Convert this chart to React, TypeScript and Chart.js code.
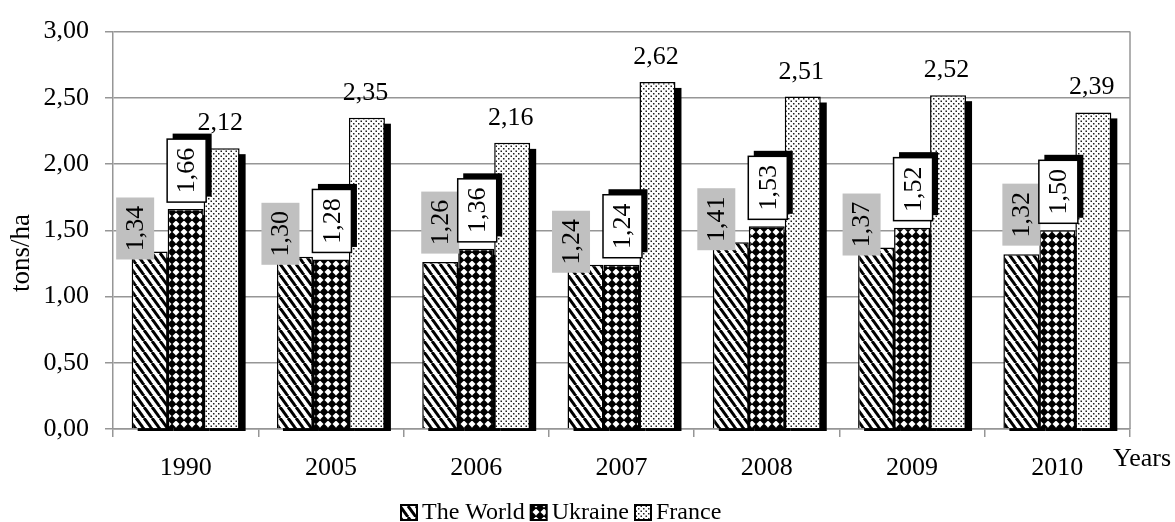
import { useEffect, useRef } from 'react';
import { Chart, registerables } from 'chart.js';

Chart.register(...registerables);

// ---------- data ----------
const categories = ['1990', '2005', '2006', '2007', '2008', '2009', '2010'];
const worldValues = [1.34, 1.3, 1.26, 1.24, 1.41, 1.37, 1.32];
const ukraineValues = [1.66, 1.28, 1.36, 1.24, 1.53, 1.52, 1.5];
const franceValues = [2.12, 2.35, 2.16, 2.62, 2.51, 2.52, 2.39];
const seriesNames = ['The World', 'Ukraine', 'France'];
const yMin = 0;
const yMax = 3;
const yStep = 0.5;
const xAxisTitle = 'Years';
const yAxisTitle = 'tons/ha';

// label layout (style): whether the World label overlaps its bar, shifted left
const worldLabelOverlap = [true, true, false, true, true, true, false];

const FONT = '"Liberation Serif", "Times New Roman", serif';
const GRID = '#969696';

const fmt = (v: number) => v.toFixed(2).replace('.', ',');

function makePattern(kind: 'world' | 'ukraine' | 'france'): CanvasPattern | string {
  const c = document.createElement('canvas');
  let w = 8;
  let h = 8;
  if (kind === 'world') { w = 8; h = 11; }
  if (kind === 'france') { w = 5; h = 5; }
  c.width = w;
  c.height = h;
  const ctx = c.getContext('2d')!;
  ctx.fillStyle = '#fff';
  ctx.fillRect(0, 0, w, h);
  if (kind === 'world') {
    ctx.strokeStyle = '#000';
    ctx.lineWidth = 3;
    for (const o of [-8, 0, 8]) {
      ctx.beginPath();
      ctx.moveTo(o, 0);
      ctx.lineTo(o + 8, h);
      ctx.stroke();
    }
  } else if (kind === 'ukraine') {
    ctx.fillStyle = '#000';
    const r = 4.5;
    ctx.beginPath();
    ctx.moveTo(4, 4 - r);
    ctx.lineTo(4 + r, 4);
    ctx.lineTo(4, 4 + r);
    ctx.lineTo(4 - r, 4);
    ctx.closePath();
    ctx.fill();
  } else {
    ctx.fillStyle = '#222';
    ctx.fillRect(0.5, 0.5, 1.5, 1.5);
    ctx.fillRect(3, 3, 1.5, 1.5);
  }
  const p = ctx.createPattern(c, 'repeat');
  return p || '#ccc';
}

const shadowPlugin = {
  id: 'barShadows',
  beforeDatasetsDraw(chart: any) {
    const ctx = chart.ctx as CanvasRenderingContext2D;
    const a = chart.chartArea;
    ctx.save();
    ctx.beginPath();
    ctx.rect(a.left, a.top - 30, a.right - a.left + 20, a.bottom - a.top + 32);
    ctx.clip();
    ctx.fillStyle = '#000';
    chart.data.datasets.forEach((_: any, i: number) => {
      chart.getDatasetMeta(i).data.forEach((bar: any) => {
        const { x, y, base, width } = bar.getProps(['x', 'y', 'base', 'width'], true);
        ctx.fillRect(x - width / 2 + 6, y + 6, width, base - y);
      });
    });
    ctx.restore();
  },
};

function rotatedText(ctx: CanvasRenderingContext2D, text: string, cx: number, cy: number) {
  ctx.save();
  ctx.translate(cx, cy);
  ctx.rotate(-Math.PI / 2);
  ctx.textAlign = 'center';
  ctx.textBaseline = 'middle';
  ctx.fillText(text, 0, 1);
  ctx.restore();
}

const labelPlugin = {
  id: 'valueLabels',
  afterDatasetsDraw(chart: any) {
    const ctx = chart.ctx as CanvasRenderingContext2D;
    ctx.save();
    ctx.font = `26px ${FONT}`;
    // World labels: grey boxes, vertical text
    chart.getDatasetMeta(0).data.forEach((bar: any, i: number) => {
      const { x, y } = bar.getProps(['x', 'y'], true);
      const bw = 38;
      const bh = 62;
      const cx = worldLabelOverlap[i] ? x - 14.5 : x;
      const bottom = worldLabelOverlap[i] ? y + 8 : y - 8.5;
      ctx.fillStyle = '#c0c0c0';
      ctx.fillRect(cx - bw / 2, bottom - bh, bw, bh);
      ctx.fillStyle = '#000';
      rotatedText(ctx, fmt(chart.data.datasets[0].data[i]), cx, bottom - bh / 2);
    });
    // Ukraine labels: white boxes with border and shadow
    chart.getDatasetMeta(1).data.forEach((bar: any, i: number) => {
      const { x, y } = bar.getProps(['x', 'y'], true);
      const bw = 39;
      const bh = 63;
      const cx = x + 1;
      const bottom = y - 7;
      const left = cx - bw / 2;
      const top = bottom - bh;
      ctx.fillStyle = '#000';
      ctx.fillRect(left + 5.5, top - 5.5, bw, bh);
      ctx.fillStyle = '#fff';
      ctx.fillRect(left, top, bw, bh);
      ctx.strokeStyle = '#000';
      ctx.lineWidth = 1.5;
      ctx.strokeRect(left, top, bw, bh);
      ctx.fillStyle = '#000';
      rotatedText(ctx, fmt(chart.data.datasets[1].data[i]), cx, top + bh / 2);
    });
    // France labels: plain horizontal text
    chart.getDatasetMeta(2).data.forEach((bar: any, i: number) => {
      const { x, y } = bar.getProps(['x', 'y'], true);
      ctx.fillStyle = '#000';
      ctx.textAlign = 'center';
      ctx.textBaseline = 'alphabetic';
      ctx.fillText(fmt(chart.data.datasets[2].data[i]), x - 1.5, y - 18);
    });
    ctx.restore();
  },
};

const decorPlugin = {
  id: 'decor',
  afterDraw(chart: any) {
    const ctx = chart.ctx as CanvasRenderingContext2D;
    const a = chart.chartArea;
    ctx.save();
    // right border of plot area
    ctx.strokeStyle = GRID;
    ctx.lineWidth = 1.5;
    ctx.beginPath();
    ctx.moveTo(a.right, a.top);
    ctx.lineTo(a.right, a.bottom);
    ctx.stroke();

    // axis titles
    ctx.fillStyle = '#000';
    ctx.font = `26px ${FONT}`;
    ctx.textAlign = 'left';
    ctx.textBaseline = 'alphabetic';
    ctx.fillText(xAxisTitle, a.right - 17, a.bottom + 37);
    ctx.save();
    ctx.translate(22, 253);
    ctx.rotate(-Math.PI / 2);
    ctx.textAlign = 'center';
    ctx.textBaseline = 'middle';
    ctx.font = `27px ${FONT}`;
    ctx.fillText(yAxisTitle, 0, 0);
    ctx.restore();

    // legend
    ctx.font = `24px ${FONT}`;
    ctx.textBaseline = 'alphabetic';
    ctx.textAlign = 'left';
    let lx = 401;
    const ly = 519;
    chart.data.datasets.forEach((ds: any) => {
      ctx.fillStyle = ds.backgroundColor;
      ctx.fillRect(lx, ly - 14, 16, 15);
      ctx.strokeStyle = '#000';
      ctx.lineWidth = 2;
      ctx.strokeRect(lx, ly - 14, 16, 15);
      ctx.fillStyle = '#000';
      ctx.fillText(ds.label, lx + 21, ly);
      lx += 21 + ctx.measureText(ds.label).width + 6;
    });
    ctx.restore();
  },
};

export default function App() {
  const ref = useRef<HTMLCanvasElement | null>(null);

  useEffect(() => {
    if (!ref.current) return;
    const patterns = [makePattern('world'), makePattern('ukraine'), makePattern('france')];
    const values = [worldValues, ukraineValues, franceValues];
    const chart = new Chart(ref.current, {
      type: 'bar',
      data: {
        labels: categories,
        datasets: values.map((vals, i) => ({
          label: seriesNames[i],
          data: vals,
          backgroundColor: patterns[i] as any,
          borderColor: '#000',
          borderWidth: 1.5,
          categoryPercentage: 0.743,
          barPercentage: 1.0,
        })),
      },
      options: {
        animation: false,
        responsive: true,
        maintainAspectRatio: false,
        layout: { padding: { top: 28, right: 45, bottom: 0, left: 0 } },
        plugins: {
          legend: { display: false },
          tooltip: { enabled: false },
        },
        scales: {
          x: {
            grid: {
              drawOnChartArea: false,
              drawTicks: true,
              tickLength: 8,
              offset: true,
              color: GRID,
              lineWidth: 1.5,
            },
            border: { display: true, color: GRID, width: 1.5 },
            ticks: {
              color: '#000',
              font: { family: FONT, size: 26 },
              padding: 16,
              maxRotation: 0,
              autoSkip: false,
            },
            afterFit: (scale: any) => {
              scale.height = 93;
            },
          },
          y: {
            min: yMin,
            max: yMax,
            grid: {
              color: GRID,
              lineWidth: 1.5,
              drawTicks: true,
              tickLength: 8,
            },
            border: { display: true, color: GRID, width: 1.5 },
            ticks: {
              stepSize: yStep,
              color: '#000',
              font: { family: FONT, size: 26 },
              padding: 16,
              callback: (v: any) => fmt(Number(v)),
            },
            afterFit: (scale: any) => {
              scale.width = 113;
            },
          },
        },
      },
      plugins: [shadowPlugin, labelPlugin, decorPlugin],
    });
    return () => chart.destroy();
  }, []);

  return (
    <div style={{ position: 'absolute', left: 0, top: 0, width: 1175, height: 522, background: '#fff' }}>
      <canvas ref={ref} />
    </div>
  );
}
